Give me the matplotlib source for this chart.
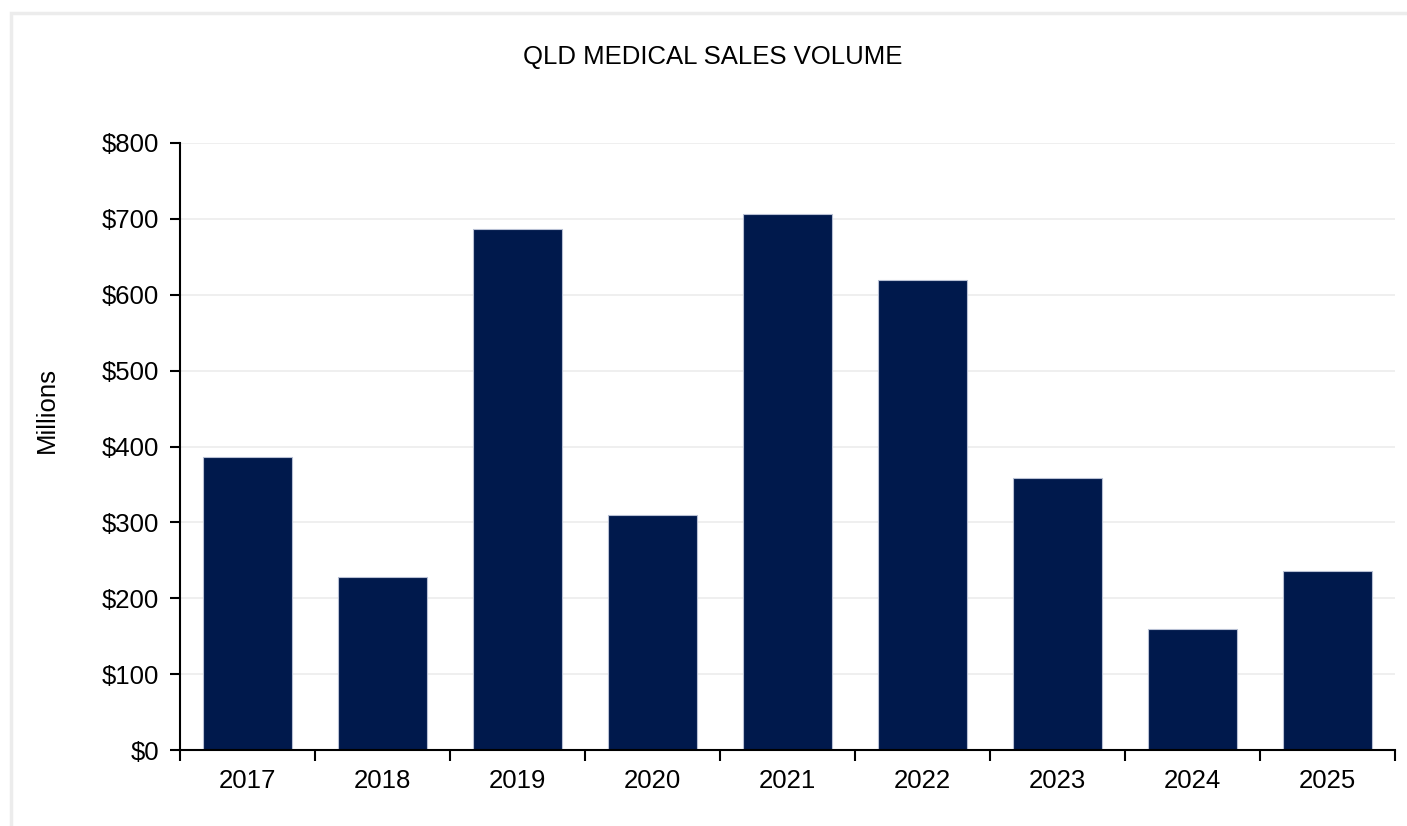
import matplotlib
matplotlib.use("Agg")
import matplotlib.pyplot as plt
from matplotlib.patches import Rectangle

years = ["2017", "2018", "2019", "2020", "2021", "2022", "2023", "2024", "2025"]
sales_millions = [386, 228, 686, 310, 706, 619, 358, 159, 236]
y_ticks = [0, 100, 200, 300, 400, 500, 600, 700, 800]
y_tick_labels = ["$0", "$100", "$200", "$300", "$400", "$500", "$600", "$700", "$800"]

plt.rcParams['font.family'] = ['Liberation Sans', 'DejaVu Sans']

W, H = 1407, 826
fig = plt.figure(figsize=(W / 100, H / 100), dpi=100)
fig.patch.set_facecolor("white")

# light outer frame
fig.patches.append(Rectangle((10.5 / W, -0.01), 1.05, 1 - 12.5 / H + 0.01,
                             transform=fig.transFigure, fill=False,
                             edgecolor="#ececec", linewidth=2.5, zorder=0))

ax = fig.add_axes([180 / W, 1 - 750 / H, (1395 - 180) / W, (750 - 143) / H])
x = list(range(len(years)))
ax.bar(x, sales_millions, width=0.66, color="#00194C",
       edgecolor="#b8c0d4", linewidth=0.8, zorder=3)

fs = 18.5
ax.set_xlim(-0.5, len(years) - 0.5)
ax.set_ylim(0, 800)
ax.set_yticks(y_ticks)
ax.set_yticklabels(y_tick_labels, fontsize=fs)
ax.set_xticks(x)
ax.set_xticklabels(years, fontsize=fs)
ax.tick_params(axis="x", length=0, pad=14)
ax.set_xticks([i - 0.5 for i in range(len(years) + 1)], minor=True)
ax.tick_params(axis="x", which="minor", length=8, width=1.5, direction="out")
ax.tick_params(axis="y", length=7, width=1.5, direction="out", pad=8)

ax.grid(axis="y", color="#ececec", linewidth=1.2, zorder=0)
ax.set_axisbelow(True)
for s in ["top", "right"]:
    ax.spines[s].set_visible(False)
ax.spines["left"].set_linewidth(1.5)
ax.spines["bottom"].set_linewidth(1.5)
ax.spines["bottom"].set_zorder(5)

ax.set_ylabel("Millions", fontsize=fs, va="center")
ax.yaxis.set_label_coords((47 - 180) / 1215, (750 - 410) / 607)
fig.text(713 / W, 1 - 57 / H, "QLD MEDICAL SALES VOLUME", ha="center", va="center",
         fontsize=fs)

fig.savefig("out.png", dpi=100)
